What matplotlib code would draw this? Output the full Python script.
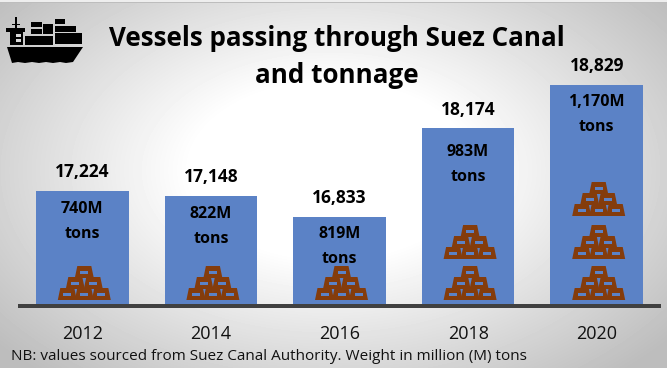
import matplotlib
matplotlib.use('Agg')
import matplotlib.pyplot as plt
import numpy as np
from matplotlib.patches import Polygon, Rectangle

W, H = 667, 368

years = ['2012', '2014', '2016', '2018', '2020']
vessels = [17224, 17148, 16833, 18174, 18829]
weights = ['740M', '822M', '819M', '983M', '1,170M']
piles = [1, 1, 1, 2, 3]

title = 'Vessels passing through Suez Canal\nand tonnage'
note = 'NB: values sourced from Suez Canal Authority. Weight in million (M) tons'

BAR = '#5b82c6'
BRICK = '#843c0c'
FONT = 'Open Sans'

plt.rcParams['font.family'] = [FONT, 'DejaVu Sans']

fig = plt.figure(figsize=(W / 100, H / 100), dpi=100)

# radial grey background, white in the middle
bg = fig.add_axes([0, 0, 1, 1], zorder=0)
yy, xx = np.mgrid[0:H, 0:W]
r = np.sqrt(((xx - 330) / 400.0) ** 2 + ((yy - 170) / 250.0) ** 2)
shade = np.clip(1.0 - 0.23 * np.clip(r - 0.35, 0, None) / 0.65, 0.74, 1.0)
# thin border at the very top of the picture
shade[:2, :] = 0.93
shade[2, :] = 0.74
bg.imshow(shade, cmap='gray', vmin=0, vmax=1, aspect='auto', extent=(0, W, H, 0))
bg.axis('off')

# the bars, value axis is cut off at about 15500
ax = fig.add_axes([18 / W, 1 - 304 / H, 643 / W, 294 / H], zorder=1)
ax.patch.set_alpha(0)
x = np.arange(len(years))
ax.bar(x, vessels, width=0.72, color=BAR)
ax.set_xlim(-0.5, 4.5)
ax.set_ylim(15517, 19965)
ax.set_yticks([])
ax.set_xticks(x)
ax.set_xticklabels(years)
ax.tick_params(axis='x', length=0, pad=14, labelsize=13, labelcolor='#111111')
for s in ['top', 'left', 'right']:
    ax.spines[s].set_visible(False)
ax.spines['bottom'].set_position(('outward', 1.44))
ax.spines['bottom'].set_linewidth(2.88)
ax.spines['bottom'].set_color('#404040')
ax.spines['bottom'].set_capstyle('butt')

for i in x:
    # 2018 sits a bit lower in its bar
    nudge = -4.3 if i == 3 else 0
    ax.annotate(f'{vessels[i]:,}', (i, vessels[i]), xytext=(0, 13.5), textcoords='offset points',
                ha='center', va='center', fontsize=12.5, fontweight='bold', color='black')
    ax.annotate(weights[i], (i, vessels[i]), xytext=(0, -12.5 + nudge), textcoords='offset points',
                ha='center', va='center', fontsize=11.5, fontweight='bold', color='black')
    ax.annotate('tons', (i, vessels[i]), xytext=(0, -30.5 + nudge), textcoords='offset points',
                ha='center', va='center', fontsize=11.5, fontweight='bold', color='black')

# overlay in pixel coordinates for the icons and headings
top = fig.add_axes([0, 0, 1, 1], zorder=2)
top.patch.set_alpha(0)
top.set_xlim(0, W)
top.set_ylim(H, 0)
top.axis('off')


def brick(cx, bottom):
    top.add_patch(Polygon([(cx - 9.5, bottom), (cx + 9.5, bottom), (cx + 7, bottom - 12), (cx - 7, bottom - 12)],
                          closed=True, fc=BRICK, ec='none'))
    top.add_patch(Rectangle((cx - 4, bottom - 7.5), 8, 3.5, fc=BAR, ec='none'))


def pile(cx, bottom):
    for dx in (-17, 0, 17):
        brick(cx + dx, bottom)
    for dx in (-9, 9):
        brick(cx + dx, bottom - 11)
    brick(cx, bottom - 22)


pile_bottoms = [300, 259, 216]
for i, n in enumerate(piles):
    px = ax.transData.transform((i, 16000))[0]
    for k in range(n):
        pile(px + 2, pile_bottoms[k])

# ship
top.add_patch(Polygon([(7, 47), (83, 47), (73, 62), (66, 63), (60, 62), (53, 63), (46, 62), (39, 63),
                       (32, 62), (25, 63), (18, 62), (12, 63)], closed=True, fc='black', ec='none'))
for rx, ry, rw, rh in [(25, 36, 28, 9), (55, 33, 27, 11), (55, 26, 21, 6), (55, 19, 10, 5),
                       (43, 24, 10, 10), (31, 22, 11, 5), (31, 29, 11, 5),
                       (10, 32, 13, 13), (6, 28, 19, 4), (15.3, 17, 1.5, 11), (12, 23.5, 8, 1.2)]:
    top.add_patch(Rectangle((rx, ry), rw, rh, fc='black', ec='none'))
top.add_patch(Rectangle((16, 34), 5, 3, fc='#d8d8d8', ec='none'))
top.add_patch(Rectangle((16, 39), 5, 3, fc='#d8d8d8', ec='none'))

top.text(337, 57, title, ha='center', va='center', fontsize=18.7, fontweight='bold',
         color='black', linespacing=1.52)
top.text(11, 357, note, ha='left', va='center', fontsize=11, color='#111111')

fig.savefig('out.png', dpi=100)
